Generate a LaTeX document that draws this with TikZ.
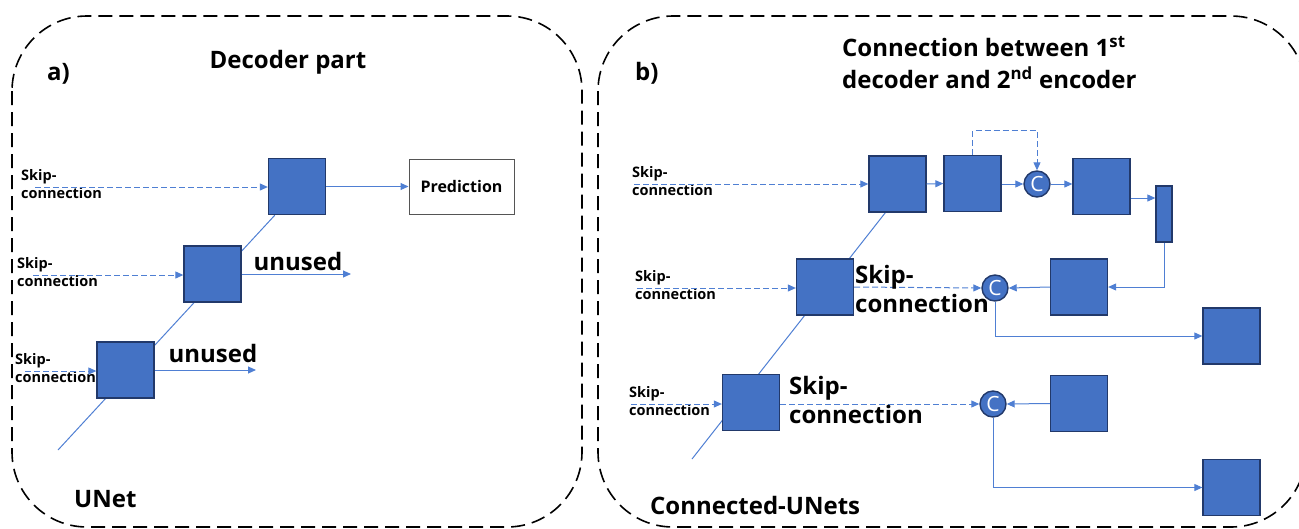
\documentclass[tikz,border=0pt]{standalone}
\usepackage{fontspec}
\setmainfont{Open Sans}
\usetikzlibrary{arrows.meta,calc}
\definecolor{boxblue}{HTML}{4472C4}
\definecolor{boxedge}{HTML}{22396A}
\definecolor{lineblue}{HTML}{4F7FD3}
\definecolor{predgray}{HTML}{555555}
\pgfdeclarelayer{bg}
\pgfsetlayers{bg,main}
\begin{document}
\begin{tikzpicture}[x=1pt,y=-1pt,
  blk/.style={draw=boxedge, fill=boxblue, line width=1.3pt, minimum width=57pt, minimum height=56pt, inner sep=0pt},
  bar/.style={draw=boxedge, fill=boxblue, line width=1.3pt, minimum width=16pt, minimum height=56pt, inner sep=0pt},
  conc/.style={circle, draw=boxedge, fill=boxblue, line width=1.4pt, minimum size=26pt, inner sep=0pt, text=white, font=\fontsize{21}{21}\selectfont},
  conn/.style={draw=lineblue, line width=1pt},
  arr/.style={conn, -{Triangle[length=8pt,width=7pt]}},
  darr/.style={arr, dash pattern=on 6pt off 3pt},
  panel/.style={draw=black, line width=1.6pt, dash pattern=on 14pt off 7pt, rounded corners=75pt},
  small/.style={font=\bfseries\fontsize{14.5}{18}\selectfont, align=left, inner sep=0pt, anchor=west},
  big/.style={font=\bfseries\fontsize{24}{29}\selectfont, align=left, inner sep=0pt},
  ttl/.style={font=\bfseries\fontsize{24}{32}\selectfont, align=left, inner sep=0pt}
]
\useasboundingbox (0,0) rectangle (1299,528);
\clip (0,0) rectangle (1299,528);

% panels
\draw[panel] (12,16) rectangle (582,527);
\draw[panel] (598,16) rectangle (1306,527);

% ===== panel a =====
\node[ttl, anchor=base west] (lblA) at (47,80) {a)};
\node[ttl, anchor=base] (titleA) at (288,68) {Decoder part};
\node[ttl, anchor=base west] (unet) at (74,507) {UNet};

\node[blk] (a3) at (297,186.5) {};
\node[blk] (a2) at (212.5,274) {};
\node[blk] (a1) at (125.5,370) {};
\node[draw=predgray, line width=1pt, minimum width=105pt, minimum height=55pt, inner sep=0pt,
      font=\bfseries\fontsize{16}{16}\selectfont] (pred) at (461.5,186.5) {Prediction};

\coordinate (ua) at (58,450);
\begin{pgfonlayer}{bg}
\draw[conn] (ua) -- ($(a3.south west)+(7,0)$);
\end{pgfonlayer}

\node[small] (sa3) at (21,184) {Skip-\\connection};
\node[small] (sa2) at (17,272) {Skip-\\connection};
\node[small] (sa1) at (15,368) {Skip-\\connection};
\coordinate (sa3s) at ($(sa3.west)+(14,3)$);
\coordinate (sa2s) at ($(sa2.west)+(16,3)$);
\coordinate (sa1s) at ($(sa1.west)+(10,3)$);
\draw[darr] (sa3s) -- (sa3s -| a3.west);
\draw[darr] (sa2s) -- (sa2s -| a2.west);
\draw[darr] (sa1s) -- (sa1s -| a1.west);

\draw[arr] (a3.east) -- (pred.west);
\coordinate (u2) at (351,274);
\coordinate (u1) at (256,370);
\draw[arr] (a2.east) -- (u2);
\draw[arr] (a1.east) -- (u1);
\node[big, anchor=base] (un2) at (298,270) {unused};
\node[big, anchor=base] (un1) at (213,362) {unused};

% ===== panel b =====
\node[ttl, anchor=base west] (lblB) at (635,80) {b)};
\node[ttl, anchor=north west] (titleB) at (842,36) {Connection between 1\textsuperscript{st}\\decoder and 2\textsuperscript{nd} encoder};
\node[ttl, anchor=base west] (cunet) at (650,514) {Connected-UNets};

\node[blk] (b1) at (897.5,184) {};
\node[blk] (b2) at (972.5,183.5) {};
\node[conc] (c1) at (1037,184) {C};
\node[blk] (b3) at (1101.5,186.5) {};
\node[bar] (bar) at (1164,214) {};
\node[blk] (b4) at (1079,287) {};
\node[conc] (c2) at (995,288) {C};
\node[blk] (b5) at (1231.5,336) {};
\node[conc] (c3) at (993,404) {C};
\node[blk] (b6) at (1079,403.5) {};
\node[blk] (b7) at (1231.5,487.5) {};
\node[blk] (b8) at (825,287) {};
\node[blk] (b9) at (751,402.5) {};

\coordinate (ub) at (692,459);
\begin{pgfonlayer}{bg}
\draw[conn] (ub) -- ($(b1.south west)+(17,0)$);
\end{pgfonlayer}

\node[small] (sb1) at (632,181) {Skip-\\connection};
\node[small] (sb2) at (635,285) {Skip-\\connection};
\node[small] (sb3) at (629,401) {Skip-\\connection};
\coordinate (sb1s) at ($(sb1.west)+(2,3)$);
\coordinate (sb2s) at ($(sb2.west)+(2,3)$);
\coordinate (sb3s) at ($(sb3.west)+(2,3)$);
\draw[darr] (sb1s) -- (sb1s -| b1.west);
\draw[darr] (sb2s) -- (sb2s -| b8.west);
\draw[darr] (sb3s) -- (sb3s -| b9.west);

\draw[arr] (b1.east) -- (b2.west);
\draw[darr] (b2.north) -- ++(0,-24) -| (c1.north);
\draw[arr] (b2.east |- c1.west) -- (c1.west);
\draw[arr] (c1.east) -- (c1.east -| b3.west);
\coordinate (b3o) at ($(b3.east)+(0,11.5)$);
\draw[arr] (b3o) -- (b3o -| bar.west);
\draw[arr] (bar.south) |- (b4.east);
\draw[arr] (b4.west) -- (c2.east);
\draw[arr] (c2.south) |- (b5.west);
\draw[arr] (b6.west) -- (c3.east);
\draw[arr] (c3.south) |- (b7.west);
\draw[darr] (b8.east) -- (c2.west);
\draw[darr] (b9.east |- c3.west) -- (c3.west);

\node[big, anchor=base west] (skb2) at (855,312) {Skip-\\connection};
\node[big, anchor=base west] (skb3) at (789,423) {Skip-\\connection};
\end{tikzpicture}
\end{document}
